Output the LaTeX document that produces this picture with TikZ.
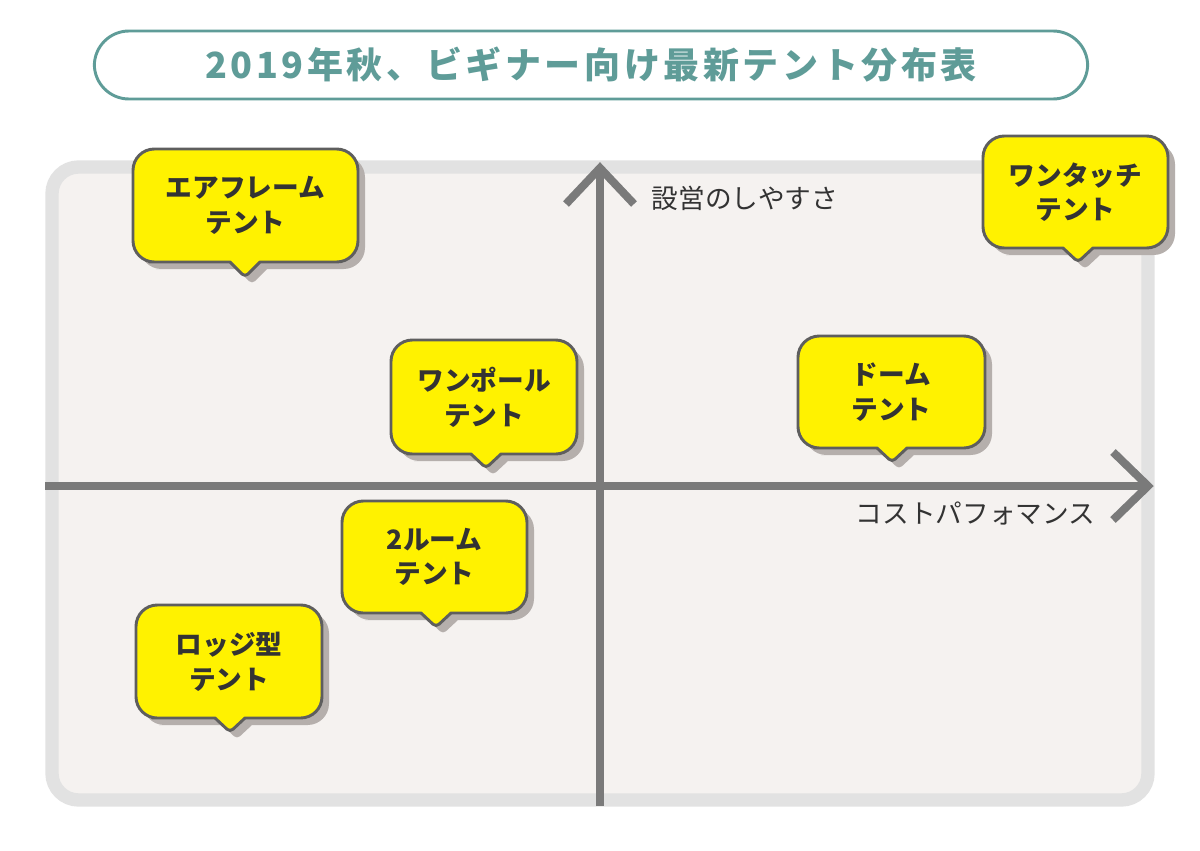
\documentclass[tikz,border=0pt]{standalone}
\usepackage{fontspec}
\setmainfont{Noto Sans CJK JP}
\begin{document}
\begin{tikzpicture}[x=0.75pt,y=-0.75pt,
  axis/.style={draw=axisgray,line width=6pt},
  chev/.style={draw=axisgray,line width=6pt,line cap=butt,line join=miter},
  btext/.style={font=\fontsize{20}{26}\selectfont\bfseries,text=textdark,align=center},
  lab/.style={font=\fontsize{20}{24}\selectfont,text=textdark},
  cshad/.style={fill=shad},
  cbox/.style={fill=yellow,draw=boxb,line width=2.2pt,line join=round}]
\definecolor{axisgray}{HTML}{7A7A7A}
\definecolor{panel}{HTML}{F5F2F0}
\definecolor{panelb}{HTML}{E2E2E2}
\definecolor{teal}{HTML}{5F9C98}
\definecolor{textdark}{HTML}{333333}
\definecolor{boxb}{HTML}{5E5E5E}
\definecolor{shad}{HTML}{B5AFAC}
\useasboundingbox (0,0) rectangle (1200,850);
\fill[white] (0,0) rectangle (1200,850);
% title
\node[draw=teal,line width=2.2pt,rounded corners=26pt,minimum width=745pt,minimum height=51pt,
  font=\fontsize{27}{30}\selectfont\bfseries,text=teal] (title) at (591,65)
  {\addfontfeatures{LetterSpace=10}2019年秋、ビギナー向け最新テント分布表};
% panel
\draw[fill=panel,draw=panelb,line width=10pt,rounded corners=20pt] (52,167) rectangle (1148,800);
% axes
\coordinate (vb) at (600,806); \coordinate (vt) at (600,168);
\coordinate (hl) at (45,486); \coordinate (hr) at (1148,486);
\draw[axis] (vb) -- (vt);
\draw[axis] (hl) -- (hr);
\draw[chev] (566,204) -- (vt) -- (634,204);
\draw[chev] (1113,452) -- (hr) -- (1113,520);
\node[lab,anchor=west] (ylab) at (647,198) {設営のしやすさ};
\node[lab,anchor=east] (xlab) at (1100,514) {コストパフォマンス};
% callouts
\foreach \n/\xa/\ya/\xb/\yb/\tx/\ty/\t in {
  air/133/149/358/262/245/277/{エアフレーム\\テント},
  touch/983/136/1168/248/1078/262/{ワンタッチ\\テント},
  pole/391/340/577/454/486/468/{ワンポール\\テント},
  dome/798/336/985/448/892/462/{ドーム\\テント},
  room/342/501/527/613/436/627/{2ルーム\\テント},
  lodge/136/605/322/718/230/732/{ロッジ型\\テント}}{
  \foreach \d/\sty in {7/cshad,0/cbox}{
    \path[\sty,shift={(\d,\d)}] (\xa+16,\yb) [sharp corners] -- (\tx-15,\yb)
      [rounded corners=3pt] -- (\tx,\ty) [sharp corners] -- (\tx+15,\yb)
      [rounded corners=16pt] -- (\xb,\yb) -- (\xb,\ya) -- (\xa,\ya) -- (\xa,\yb) [sharp corners] -- cycle;
  }
  \node[btext] (\n) at ({(\xa+\xb)/2},{(\ya+\yb)/2}) {\t};
}
\end{tikzpicture}
\end{document}
